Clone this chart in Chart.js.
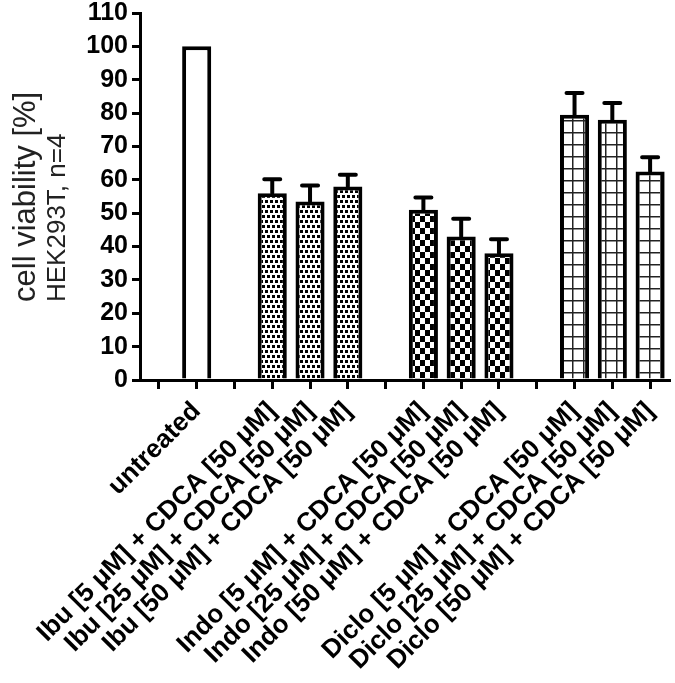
<!DOCTYPE html>
<html>
<head>
<meta charset="utf-8">
<script src="https://cdn.jsdelivr.net/npm/chart.js@4/dist/chart.umd.min.js"></script>
<style>
  body { margin: 0; background: #fff; }
  canvas { display: block; }
</style>
</head>
<body>
<canvas id="viabilityChart" width="675" height="683"></canvas>
<script>
// categories ('' = gap between groups)
const categories = [
    '', 'untreated', '',
    'Ibu [5 μM] + CDCA [50 μM]', 'Ibu [25 μM] + CDCA [50 μM]', 'Ibu [50 μM] + CDCA [50 μM]', '',
    'Indo [5 μM] + CDCA [50 μM]', 'Indo [25 μM] + CDCA [50 μM]', 'Indo [50 μM] + CDCA [50 μM]', '',
    'Diclo [5 μM] + CDCA [50 μM]', 'Diclo [25 μM] + CDCA [50 μM]', 'Diclo [50 μM] + CDCA [50 μM]'
];
// mean cell viability in %
const viability = [null, 100, null, 56, 53.5, 58, null, 51, 43, 38, null, 79.5, 78, 62.5];
// upper error (SD)
const errorUp = [null, 0, null, 4.2, 4.8, 3.5, null, 3.7, 5.3, 4.2, null, 6.5, 5, 4.3];
const yTitle = ['cell viability [%]', 'HEK293T, n=4'];

// fill patterns
function makePattern(w, h, draw) {
    let c = document.createElement('canvas');
    c.width = w; c.height = h;
    let g = c.getContext('2d');
    g.fillStyle = '#fff';
    g.fillRect(0, 0, w, h);
    g.fillStyle = '#000';
    draw(g);
    return document.getElementById('viabilityChart').getContext('2d').createPattern(c, 'repeat');
}
const dotted = makePattern(10, 10, function (g) {
    g.fillRect(0, 0, 3, 3); g.fillRect(5, 0, 3, 3);
    g.fillRect(2, 5, 3, 3); g.fillRect(7, 5, 3, 3);
});
const checker = makePattern(10, 12, function (g) {
    g.fillRect(0, 0, 5, 6); g.fillRect(5, 6, 5, 6);
});
const grid = makePattern(11, 12, function (g) {
    g.fillStyle = '#222';
    g.fillRect(0, 0, 11, 1.5);
    g.fillRect(0, 0, 1.5, 12);
});

function fillFor(label) {
    if (label.startsWith('Ibu')) return dotted;
    if (label.startsWith('Indo')) return checker;
    if (label.startsWith('Diclo')) return grid;
    return '#fff';
}

// error bars, drawn through the y scale
const errorBars = {
    id: 'errorBars',
    afterDatasetsDraw(chart) {
        let ctx = chart.ctx;
        let y = chart.scales.y;
        let meta = chart.getDatasetMeta(0);
        ctx.save();
        ctx.strokeStyle = '#000';
        ctx.lineWidth = 4;
        ctx.lineCap = 'round';
        viability.forEach(function (v, i) {
            if (v === null || !errorUp[i]) return;
            let x = meta.data[i].x;
            let top = y.getPixelForValue(v);
            let end = y.getPixelForValue(v + errorUp[i]);
            ctx.beginPath();
            ctx.moveTo(x, top);
            ctx.lineTo(x, end);
            ctx.moveTo(x - 8, end);
            ctx.lineTo(x + 8, end);
            ctx.stroke();
        });
        ctx.restore();
    }
};

// y-axis title, left aligned lines
const axisTitle = {
    id: 'axisTitle',
    afterDraw(chart) {
        let ctx = chart.ctx;
        ctx.save();
        ctx.fillStyle = '#222';
        ctx.textAlign = 'left';
        ctx.textBaseline = 'middle';
        ctx.translate(26, 302);
        ctx.rotate(-Math.PI / 2);
        ctx.font = '31px "Liberation Sans", Arial, sans-serif';
        ctx.fillText(yTitle[0], 0, 0);
        ctx.font = '26px "Liberation Sans", Arial, sans-serif';
        ctx.fillText(yTitle[1], 0, 32);
        ctx.restore();
    }
};

new Chart(document.getElementById('viabilityChart'), {
    type: 'bar',
    data: {
        labels: categories,
        datasets: [{
            data: viability,
            backgroundColor: categories.map(fillFor),
            borderColor: '#000',
            borderWidth: 4,
            barPercentage: 0.77,
            categoryPercentage: 1
        }]
    },
    options: {
        responsive: false,
        devicePixelRatio: 1,
        animation: false,
        layout: { padding: { top: 13, right: 6, left: 0, bottom: 0 } },
        plugins: {
            legend: { display: false },
            tooltip: { enabled: false }
        },
        scales: {
            x: {
                afterFit: function (scale) {
                    scale.height = 303;
                    scale.paddingLeft = 0;
                    scale.paddingRight = 0;
                },
                grid: {
                    offset: false,
                    drawOnChartArea: false,
                    drawTicks: true,
                    tickLength: 9,
                    lineWidth: 3,
                    color: '#000'
                },
                border: { display: true, width: 3, color: '#000' },
                ticks: {
                    autoSkip: false,
                    minRotation: 45,
                    maxRotation: 45,
                    padding: 7,
                    color: '#000',
                    font: { family: '"Liberation Sans", Arial, sans-serif', size: 26, weight: 'bold' }
                }
            },
            y: {
                min: 0,
                max: 110,
                afterFit: function (scale) {
                    scale.width = 140;
                    scale.paddingTop = 0;
                    scale.paddingBottom = 0;
                },
                grid: {
                    drawOnChartArea: false,
                    drawTicks: true,
                    tickLength: 8,
                    lineWidth: 3,
                    color: '#000'
                },
                border: { display: true, width: 3, color: '#000' },
                ticks: {
                    stepSize: 10,
                    autoSkip: false,
                    padding: 4,
                    color: '#000',
                    font: { family: '"Liberation Sans", Arial, sans-serif', size: 25, weight: 'bold' }
                }
            }
        }
    },
    plugins: [errorBars, axisTitle]
});
</script>
</body>
</html>
